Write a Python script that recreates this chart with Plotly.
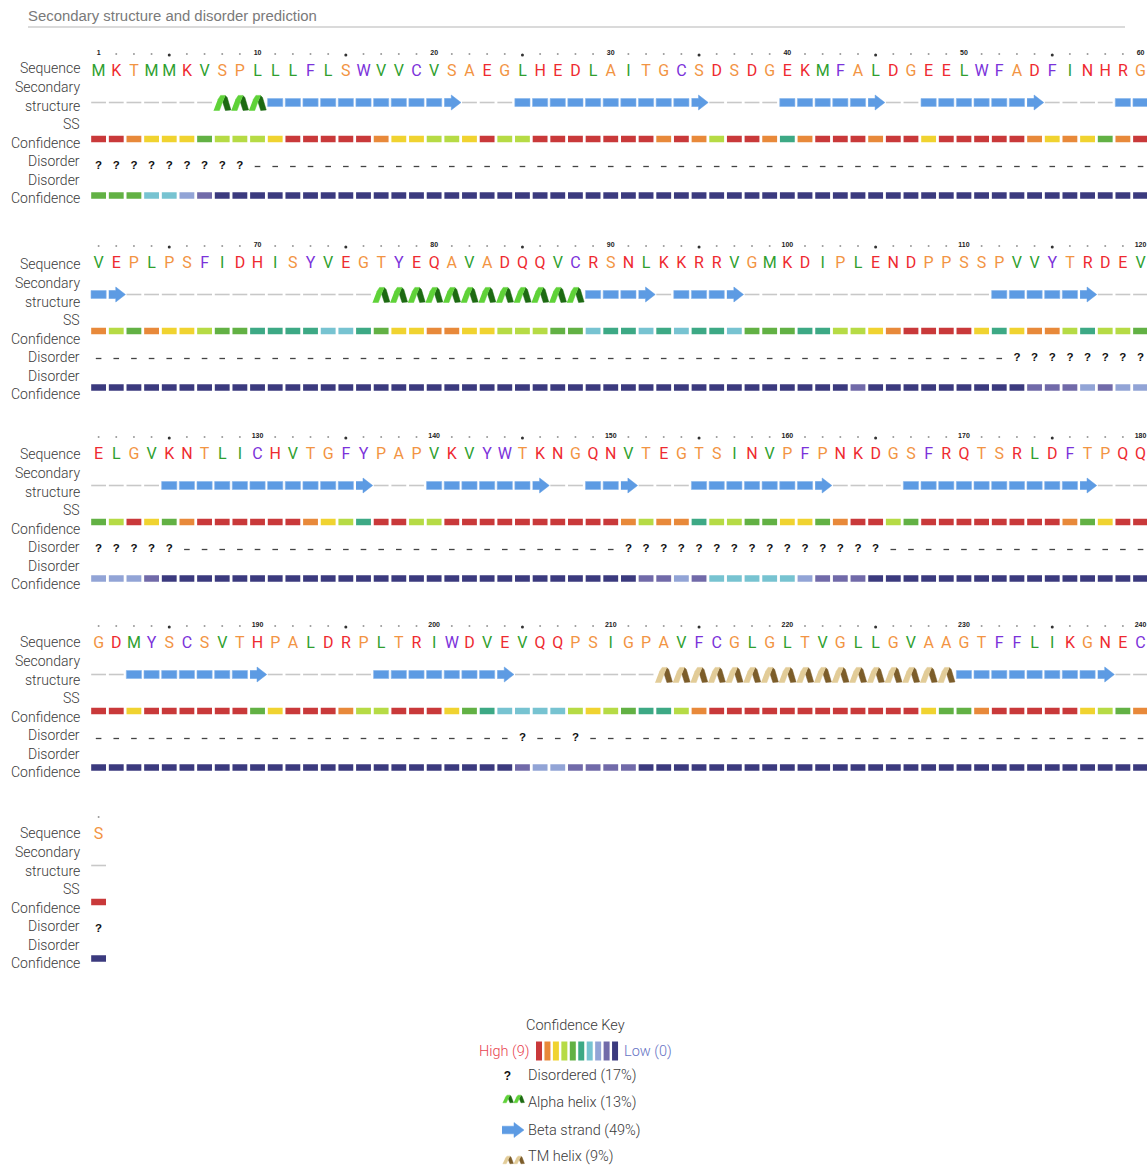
import plotly.graph_objects as go

# ---------------------------------------------------------------------------
# Per-residue prediction data (241 residues, 60 per row)
# ---------------------------------------------------------------------------
SEQUENCE = (
    "MKTMMKVSPL" "LLFLSWVVCV" "SAEGLHEDLA" "ITGCSDSDGE" "KMFALDGEEL" "WFADFINHRG"
    "VEPLPSFIDH" "ISYVEGTYEQ" "AVADQQVCRS" "NLKKRRVGMK" "DIPLENDPPS" "SPVVYTRDEV"
    "ELGVKNTLIC" "HVTGFYPAPV" "KVYWTKNGQN" "VTEGTSINVP" "FPNKDGSFRQ" "TSRLDFTPQQ"
    "GDMYSCSVTH" "PALDRPLTRI" "WDVEVQQPSI" "GPAVFCGLGL" "TVGLLGVAAG" "TFFLIKGNEC"
    "S"
)

# C = coil, H = alpha helix, T = TM helix, E = beta strand
SECONDARY = (
    "CCCCCCCHHH" "EEEEEEEEEE" "ECCCEEEEEE" "EEEEECCCCE" "EEEEECCEEE" "EEEECCCCEE"
    "EECCCCCCCC" "CCCCCCHHHH" "HHHHHHHHEE" "EECEEEECCC" "CCCCCCCCCC" "CEEEEEECCC"
    "CCCCEEEEEE" "EEEEEECCCE" "EEEEEECCEE" "ECCCEEEEEE" "EECCCCEEEE" "EEEEEEECCC"
    "CCEEEEEEEE" "CCCCCCEEEE" "EEEECCCCCC" "CCTTTTTTTT" "TTTTTTTTTE" "EEEEEEEECC"
    "C"
)

SS_CONFIDENCE = [
    9, 9, 8, 7, 7, 7, 5, 6, 6, 6,   7, 9, 9, 9, 9, 9, 8, 7, 7, 6,
    6, 7, 9, 6, 6, 9, 9, 9, 9, 9,   9, 9, 8, 9, 8, 6, 9, 9, 8, 4,
    8, 9, 9, 9, 8, 9, 9, 7, 9, 9,   9, 9, 9, 8, 7, 8, 7, 5, 8, 9,
    8, 6, 5, 8, 7, 7, 6, 5, 5, 4,   4, 4, 4, 3, 3, 4, 5, 7, 7, 8,
    8, 7, 7, 6, 6, 6, 5, 5, 3, 4,   4, 3, 4, 3, 4, 4, 3, 5, 5, 5,
    4, 4, 6, 6, 7, 8, 9, 9, 9, 9,   7, 4, 7, 8, 8, 6, 4, 6, 6, 5,
    5, 6, 9, 7, 5, 8, 9, 9, 9, 9,   9, 9, 8, 7, 6, 4, 9, 9, 6, 6,
    9, 9, 9, 9, 9, 9, 9, 9, 9, 9,   8, 6, 8, 8, 4, 6, 6, 5, 5, 7,
    7, 5, 8, 9, 9, 6, 5, 9, 9, 9,   9, 9, 9, 9, 9, 8, 5, 7, 9, 9,
    9, 9, 7, 9, 9, 9, 9, 9, 9, 5,   7, 9, 9, 9, 8, 6, 6, 9, 9, 9,
    7, 5, 4, 3, 3, 3, 3, 6, 7, 6,   5, 4, 4, 6, 8, 9, 9, 9, 9, 9,
    9, 9, 9, 9, 9, 9, 9, 7, 5, 5,   8, 9, 9, 9, 9, 9, 7, 6, 5, 8,
    9,
]

# ? = disordered, - = ordered
DISORDER = (
    "?????????-" "----------" "----------" "----------" "----------" "----------"
    "----------" "----------" "----------" "----------" "----------" "--????????"
    "?????-----" "----------" "----------" "??????????" "?????-----" "----------"
    "----------" "----------" "----?--?--" "----------" "----------" "----------"
    "?"
)

DISORDER_CONFIDENCE = [
    5, 5, 5, 3, 3, 2, 1, 0, 0, 0,   0, 0, 0, 0, 0, 0, 0, 0, 0, 0,
    0, 0, 0, 0, 0, 0, 0, 0, 0, 0,   0, 0, 0, 0, 0, 0, 0, 0, 0, 0,
    0, 0, 0, 0, 0, 0, 0, 0, 0, 0,   0, 0, 0, 0, 0, 0, 0, 0, 0, 0,
    0, 0, 0, 0, 0, 0, 0, 0, 0, 0,   0, 0, 0, 0, 0, 0, 0, 0, 0, 0,
    0, 0, 0, 0, 0, 0, 0, 0, 0, 0,   0, 0, 0, 0, 0, 0, 0, 0, 0, 0,
    0, 0, 0, 1, 0, 0, 0, 0, 0, 0,   0, 0, 0, 1, 1, 1, 2, 1, 2, 2,
    2, 2, 2, 1, 0, 0, 0, 0, 0, 0,   0, 0, 0, 0, 0, 0, 0, 0, 0, 0,
    0, 0, 0, 0, 0, 0, 0, 0, 0, 0,   0, 1, 1, 2, 1, 3, 3, 3, 3, 3,
    2, 1, 1, 1, 0, 0, 0, 0, 0, 0,   0, 0, 0, 0, 0, 0, 0, 0, 0, 0,
    0, 0, 0, 0, 0, 0, 0, 0, 0, 0,   0, 0, 0, 0, 0, 0, 0, 0, 0, 0,
    0, 0, 0, 0, 1, 2, 2, 1, 1, 1,   1, 0, 0, 0, 0, 0, 0, 0, 0, 0,
    0, 0, 0, 0, 0, 0, 0, 0, 0, 0,   0, 0, 0, 0, 0, 0, 0, 0, 0, 0,
    0,
]

TRACK_LABELS = ["Sequence", "Secondary", "structure", "SS", "Confidence",
                "Disorder", "Disorder", "Confidence"]

LEGEND_ITEMS = [("Disordered", 17), ("Alpha helix", 13),
                ("Beta strand", 49), ("TM helix", 9)]

N = len(SEQUENCE)
assert len(SECONDARY) == N and len(DISORDER) == N
assert len(SS_CONFIDENCE) == N and len(DISORDER_CONFIDENCE) == N

# ---------------------------------------------------------------------------
# Styling
# ---------------------------------------------------------------------------
W, H = 1147, 1165
PER_ROW = 60
X0, DX = 98.6, 17.66            # pixel centre of column 1 and column pitch
BLOCK_Y = [72, 264, 455, 644, 835]       # sequence line of each block
LABEL_Y = [68, 264, 454, 642, 833]       # first label line of each block
LABEL_OFFSETS = [0, 18.5, 37.5, 56, 74.5, 93, 111.5, 130]
OFF_TICK, OFF_SS, OFF_SSC, OFF_DIS, OFF_DISC = -19, 30.5, 67, 94.5, 123.5

CONF_COLOURS = ["#3b3a7e", "#716aa9", "#92a4d6", "#77c3d1", "#3da985",
                "#62b144", "#b6db45", "#f0d330", "#e8893a", "#c9393a"]

AA_COLOUR = {}
for aa in "MVLI":
    AA_COLOUR[aa] = "#2f9f2f"
for aa in "KREDHNQ":
    AA_COLOUR[aa] = "#ee2a30"
for aa in "TSPAG":
    AA_COLOUR[aa] = "#f29443"
for aa in "FWCY":
    AA_COLOUR[aa] = "#7b32da"

STRAND = "#5d9be3"
COIL = "#c8c8c8"
HELIX_LIGHT, HELIX_DARK = "#5fd238", "#1d6a12"
TM_LIGHT, TM_DARK = "#e2cc98", "#7c5d2a"

LABEL_FONT = dict(family="Roboto", size=14, color="#3a3a3a", weight=300)
SEQ_FONT = dict(family="Roboto", size=16, weight=400)

# helix glyph outline in pixel offsets (front ribbon, back ribbon)
GLYPH_FRONT = [(-8.6, 7.5), (-2.8, 7.5), (0.4, -1.2), (3.0, -7.6), (-1.6, -7.6), (-4.6, -3.0)]
GLYPH_BACK = [(3.0, -7.6), (5.0, -5.4), (8.7, 7.0), (3.2, 7.5), (0.4, -1.2)]
ARROW = [(-7.5, -4), (-0.5, -4), (-0.5, -7.5), (9.2, 0), (-0.5, 7.5), (-0.5, 4), (-7.5, 4)]

cols = [i % PER_ROW + 1 for i in range(N)]
rows = [i // PER_ROW for i in range(N)]
ybase = [BLOCK_Y[r] for r in rows]


def polygons(centres, shape, sx=1.0, sy=1.0, unit=DX):
    """Concatenate copies of a pixel-offset outline around (x, y) centres."""
    xs, ys = [], []
    for cx, cy in centres:
        for dx, dy in shape:
            xs.append(cx + dx * sx / unit)
            ys.append(cy + dy * sy)
        xs.append(None)
        ys.append(None)
    return xs, ys


fig = go.Figure()

# ---- position ruler --------------------------------------------------------
num_x, num_y, num_t = [], [], []
dot_x, dot_y, mid_x, mid_y = [], [], [], []
for i in range(N):
    pos = i + 1
    yt = ybase[i] + OFF_TICK
    if pos == 1 or pos % 10 == 0:
        num_x.append(cols[i]); num_y.append(yt); num_t.append(str(pos))
    elif pos % 5 == 0:
        mid_x.append(cols[i]); mid_y.append(yt + 2)
    else:
        dot_x.append(cols[i]); dot_y.append(yt + 1)

fig.add_trace(go.Scatter(x=dot_x, y=dot_y, mode="markers",
                         marker=dict(size=2, color="#9a9a9a")))
fig.add_trace(go.Scatter(x=mid_x, y=mid_y, mode="markers",
                         marker=dict(size=3, color="#333333")))
fig.add_trace(go.Scatter(x=num_x, y=num_y, mode="text", text=num_t,
                         textfont=dict(family="Liberation Sans", size=7,
                                       color="#222222", weight="bold")))

# ---- sequence letters ------------------------------------------------------
fig.add_trace(go.Scatter(
    x=cols, y=ybase, mode="text", text=list(SEQUENCE),
    textfont=dict(SEQ_FONT, color=[AA_COLOUR[a] for a in SEQUENCE])))

# ---- secondary structure ---------------------------------------------------
coil_x, coil_y = [], []
body_x, body_y = [], []
arrow_c, helix_c, tm_c = [], [], []
for i, s in enumerate(SECONDARY):
    c, y = cols[i], ybase[i] + OFF_SS
    if s == "C":
        coil_x += [c - 0.42, c + 0.42, None]
        coil_y += [y, y, None]
    elif s == "E":
        last = (i + 1 == N) or SECONDARY[i + 1] != "E"
        if last:
            arrow_c.append((c, y))
        else:
            body_x.append(c); body_y.append(y)
    elif s == "H":
        helix_c.append((c, y + 0.5))
    elif s == "T":
        tm_c.append((c, y + 0.5))

fig.add_trace(go.Scatter(x=coil_x, y=coil_y, mode="lines",
                         line=dict(color=COIL, width=1.6)))
fig.add_trace(go.Bar(x=body_x, y=[8] * len(body_x), base=[v - 4 for v in body_y],
                     width=0.86, marker=dict(color=STRAND,
                                             line=dict(color="#86b5ec", width=0.6))))
ax, ay = polygons(arrow_c, ARROW)
fig.add_trace(go.Scatter(x=ax, y=ay, mode="lines", fill="toself", fillcolor=STRAND,
                         line=dict(color=STRAND, width=0.5)))
for centres, light, dark in ((helix_c, HELIX_LIGHT, HELIX_DARK), (tm_c, TM_LIGHT, TM_DARK)):
    bx, by = polygons(centres, GLYPH_BACK)
    fig.add_trace(go.Scatter(x=bx, y=by, mode="lines", fill="toself", fillcolor=dark,
                             line=dict(color=dark, width=0.5)))
    fx, fy = polygons(centres, GLYPH_FRONT)
    fig.add_trace(go.Scatter(x=fx, y=fy, mode="lines", fill="toself", fillcolor=light,
                             line=dict(color=light, width=0.5)))

# ---- SS confidence -------------------------------------------------------
fig.add_trace(go.Bar(x=cols, y=[6.5] * N, base=[y + OFF_SSC - 3.25 for y in ybase],
                     width=0.84, marker=dict(color=[CONF_COLOURS[v] for v in SS_CONFIDENCE],
                                             line=dict(width=0))))

# ---- disorder --------------------------------------------------------------
q_x = [cols[i] for i, d in enumerate(DISORDER) if d == "?"]
q_y = [ybase[i] + OFF_DIS for i, d in enumerate(DISORDER) if d == "?"]
o_x = [cols[i] for i, d in enumerate(DISORDER) if d == "-"]
o_y = [ybase[i] + OFF_DIS for i, d in enumerate(DISORDER) if d == "-"]
fig.add_trace(go.Scatter(x=o_x, y=o_y, mode="markers",
                         marker=dict(symbol="line-ew", size=4,
                                     line=dict(color="#444444", width=1.3))))
fig.add_trace(go.Scatter(x=q_x, y=q_y, mode="text", text=["?"] * len(q_x),
                         textfont=dict(family="Liberation Sans", size=11.5,
                                       color="#111111", weight="bold")))

# ---- disorder confidence ---------------------------------------------------
fig.add_trace(go.Bar(x=cols, y=[6.5] * N, base=[y + OFF_DISC - 3.25 for y in ybase],
                     width=0.84, marker=dict(color=[CONF_COLOURS[v] for v in DISORDER_CONFIDENCE],
                                             line=dict(width=0))))

# ---- track labels ----------------------------------------------------------
annotations = []
n_blocks = (N + PER_ROW - 1) // PER_ROW
for b in range(n_blocks):
    for text, off in zip(TRACK_LABELS, LABEL_OFFSETS):
        annotations.append(dict(x=82 / W, xref="paper", xanchor="right",
                                y=LABEL_Y[b] + off, yref="y", yanchor="middle",
                                text=text, showarrow=False, font=LABEL_FONT))

# ---- confidence key (pixel coordinates on x2) ------------------------------
KEY_FONT = dict(family="Roboto", size=14.5, color="#3a3a3a", weight=300)
annotations.append(dict(x=575 / W, xref="paper", xanchor="center", y=1025, yref="y",
                        yanchor="middle", text="Confidence Key", showarrow=False,
                        font=KEY_FONT))
annotations.append(dict(x=531 / W, xref="paper", xanchor="right", y=1051, yref="y",
                        yanchor="middle", text="High (9)", showarrow=False,
                        font=dict(KEY_FONT, color="#e8424f")))
annotations.append(dict(x=622 / W, xref="paper", xanchor="left", y=1051, yref="y",
                        yanchor="middle", text="Low (0)", showarrow=False,
                        font=dict(KEY_FONT, color="#6673c4")))
key_levels = list(range(9, -1, -1))
fig.add_trace(go.Bar(x=[539 + k * 8.45 for k in range(len(key_levels))],
                     y=[19] * len(key_levels), base=[1041.5] * len(key_levels),
                     width=6, xaxis="x2",
                     marker=dict(color=[CONF_COLOURS[v] for v in key_levels],
                                 line=dict(width=0))))

item_y = [1075, 1102, 1130, 1156]
for (name, pct), yy in zip(LEGEND_ITEMS, item_y):
    annotations.append(dict(x=526 / W, xref="paper", xanchor="left", y=yy, yref="y",
                            yanchor="middle", text=f"{name} ({pct}%)", showarrow=False,
                            font=KEY_FONT))

# legend icons
fig.add_trace(go.Scatter(x=[507.5], y=[1077], mode="text", text=["?"], xaxis="x2",
                         textfont=dict(family="Liberation Sans", size=12,
                                       color="#111111", weight="bold")))
for centres, light, dark in (([(508, 1099), (519, 1099)], HELIX_LIGHT, HELIX_DARK),
                             ([(508, 1160), (519, 1160)], TM_LIGHT, TM_DARK)):
    bx, by = polygons(centres, GLYPH_BACK, 0.62, 0.5, unit=1)
    fig.add_trace(go.Scatter(x=bx, y=by, mode="lines", fill="toself", fillcolor=dark,
                             xaxis="x2", line=dict(color=dark, width=0.5)))
    fx, fy = polygons(centres, GLYPH_FRONT, 0.62, 0.5, unit=1)
    fig.add_trace(go.Scatter(x=fx, y=fy, mode="lines", fill="toself", fillcolor=light,
                             xaxis="x2", line=dict(color=light, width=0.5)))
kx, ky = polygons([(511, 1130)], [(-9, -3.8), (3, -3.8), (3, -7.5), (13, 0),
                                  (3, 7.5), (3, 3.8), (-9, 3.8)], unit=1)
fig.add_trace(go.Scatter(x=kx, y=ky, mode="lines", fill="toself", fillcolor=STRAND,
                         xaxis="x2", line=dict(color=STRAND, width=0.5)))

# ---- heading ---------------------------------------------------------------
annotations.append(dict(x=26 / W, xref="paper", xanchor="left", y=16, yref="y",
                        yanchor="middle", text="Secondary structure and disorder prediction",
                        showarrow=False,
                        font=dict(family="Liberation Sans", size=14.9, color="#7a7a7a")))

fig.update_layout(
    width=W, height=H, margin=dict(l=0, r=0, t=0, b=0),
    paper_bgcolor="white", plot_bgcolor="white",
    showlegend=False, barmode="overlay", hovermode=False,
    xaxis=dict(range=[1 - X0 / DX, 1 + (W - X0) / DX], visible=False, fixedrange=True),
    xaxis2=dict(range=[0, W], overlaying="x", visible=False, fixedrange=True),
    yaxis=dict(range=[H, 0], visible=False, fixedrange=True),
    annotations=annotations,
    shapes=[dict(type="line", xref="paper", yref="y", x0=28 / W, x1=1125 / W,
                 y0=27, y1=27, line=dict(color="#b5b5b5", width=1))],
)

fig.write_html("out.html")
